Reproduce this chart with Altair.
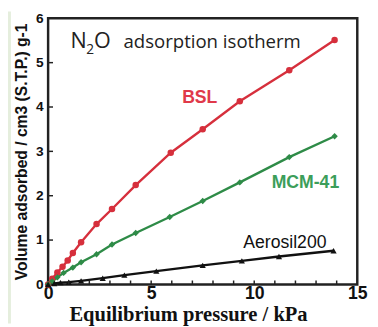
import altair as alt
import pandas as pd

# ---- data ----
series_names = ["BSL", "MCM-41", "Aerosil200"]

bsl_x = [0, 0.2, 0.45, 0.7, 0.95, 1.2, 1.6, 2.35, 3.1, 4.25, 5.95, 7.5, 9.3, 11.7, 13.9]
bsl_y = [0, 0.13, 0.27, 0.40, 0.54, 0.71, 0.95, 1.36, 1.70, 2.24, 2.97, 3.50, 4.13, 4.83, 5.51]

mcm_x = [0, 0.2, 0.45, 0.75, 1.2, 1.6, 2.35, 3.1, 4.25, 5.9, 7.5, 9.3, 11.7, 13.9]
mcm_y = [0, 0.07, 0.16, 0.26, 0.38, 0.50, 0.68, 0.90, 1.16, 1.52, 1.88, 2.30, 2.87, 3.34]

aer_x = [0, 0.3, 0.6, 1.0, 1.6, 2.65, 3.7, 5.25, 7.5, 9.4, 11.2, 13.85]
aer_y = [0, 0.02, 0.04, 0.05, 0.08, 0.14, 0.21, 0.30, 0.43, 0.53, 0.63, 0.76]

x_labels = [0, 5, 10, 15]
y_labels = [0, 1, 2, 3, 4, 5, 6]
x_minor = list(range(1, 15))
y_minor = [1, 2, 3, 4, 5]

title_text = ["N", "2", "O", "adsorption isotherm"]
x_title = "Equilibrium pressure / kPa"
y_title = "Volume adsorbed / cm3 (S.T.P.) g-1"

# ---- build table ----
rows = []
for name, xs_, ys_ in zip(series_names, [bsl_x, mcm_x, aer_x], [bsl_y, mcm_y, aer_y]):
    for i, (a, b) in enumerate(zip(xs_, ys_)):
        rows.append({"series": name, "p": a, "v": b, "i": i})
df = pd.DataFrame(rows)

W, H = 316, 272
RED, GREEN, BLACK = "#d62f3c", "#2e8b47", "#111111"

xs = alt.Scale(domain=[0, 15], nice=False, zero=False)
ys = alt.Scale(domain=[0, 6], nice=False, zero=False)
cscale = alt.Scale(domain=series_names, range=[RED, GREEN, BLACK])
sscale = alt.Scale(domain=series_names, range=["circle", "diamond", "triangle-up"])
zscale = alt.Scale(domain=series_names, range=[44, 40, 30])

x_axis = alt.Axis(
    values=x_labels, title=x_title, ticks=False, domain=False, grid=False,
    labelFont="Liberation Sans", labelFontWeight="bold", labelFontSize=18,
    labelColor="#111", labelPadding=0, labelFlush=False, labelBound=False,
    labelOverlap=False,
    titleFont="Liberation Serif", titleFontWeight="bold", titleFontSize=21,
    titleColor="#111", titleX=143, titleY=37, titleAlign="center",
    titleBaseline="alphabetic", titleAnchor="start")
y_axis = alt.Axis(
    values=y_labels, title=y_title, ticks=False, domain=False, grid=False,
    labelFont="Liberation Sans", labelFontWeight="bold", labelFontSize=14,
    labelColor="#111", labelPadding=5, labelFlush=False, labelBound=False,
    labelOverlap=False,
    titleFont="Liberation Sans", titleFontWeight="bold", titleFontSize=16,
    titleColor="#111", titleX=-27, titleY=136, titleAngle=270,
    titleAlign="center", titleBaseline="middle", titleAnchor="start")

x_enc = alt.X("p:Q", scale=xs, axis=x_axis)
y_enc = alt.Y("v:Q", scale=ys, axis=y_axis)

base = alt.Chart(df)
lines = base.mark_line(strokeWidth=2.4).encode(
    x=x_enc, y=y_enc, order="i:Q",
    color=alt.Color("series:N", scale=cscale, legend=None),
)
points = base.mark_point(filled=True, opacity=1).encode(
    x=x_enc, y=y_enc,
    color=alt.Color("series:N", scale=cscale, legend=None),
    shape=alt.Shape("series:N", scale=sscale, legend=None),
    size=alt.Size("series:N", scale=zscale, legend=None),
)

xt = alt.Chart(pd.DataFrame({"p": x_minor})).mark_rule(color="#222", strokeWidth=1.5).encode(
    x=x_enc, y=alt.value(H), y2=alt.value(H - 4))
yt = alt.Chart(pd.DataFrame({"v": y_minor})).mark_rule(color="#222", strokeWidth=1.5).encode(
    y=y_enc, x=alt.value(0), x2=alt.value(5))

strip = alt.Chart(pd.DataFrame({"a": [0]})).mark_rect(color="#e5eedd").encode(
    x=alt.value(-41), x2=alt.value(-38), y=alt.value(-7), y2=alt.value(H + 40))

def txt(s, x, y, size, font="Open Sans", weight="normal", color="#222", align="left"):
    return alt.Chart(pd.DataFrame({"s": [s]})).mark_text(
        font=font, fontSize=size, fontWeight=weight, color=color, align=align,
        baseline="alphabetic").encode(text="s:N", x=alt.value(x), y=alt.value(y))

ann = [
    txt(title_text[0], 23, 30, 22),
    txt(title_text[1], 39, 36.5, 14),
    txt(title_text[2], 47, 30, 22),
    txt(title_text[3], 77, 30, 19),
    txt(series_names[0], 155, 87, 18, font="Liberation Sans", weight="bold", color="#e0394a", align="center"),
    txt(series_names[1], 263, 173, 18, font="Liberation Sans", weight="bold", color="#3c9e5a", align="center"),
    txt(series_names[2], 242, 235, 18, font="Liberation Sans", color="#111", align="center"),
]

chart = alt.layer(strip, lines, points, xt, yt, *ann).properties(
    width=W, height=H, autosize="none", background="white",
    padding={"left": 41, "top": 7, "right": 13, "bottom": 40},
).configure_view(stroke="#222", strokeWidth=2.5)

chart.save("out.html", embed_options={"renderer": "svg", "actions": False})
